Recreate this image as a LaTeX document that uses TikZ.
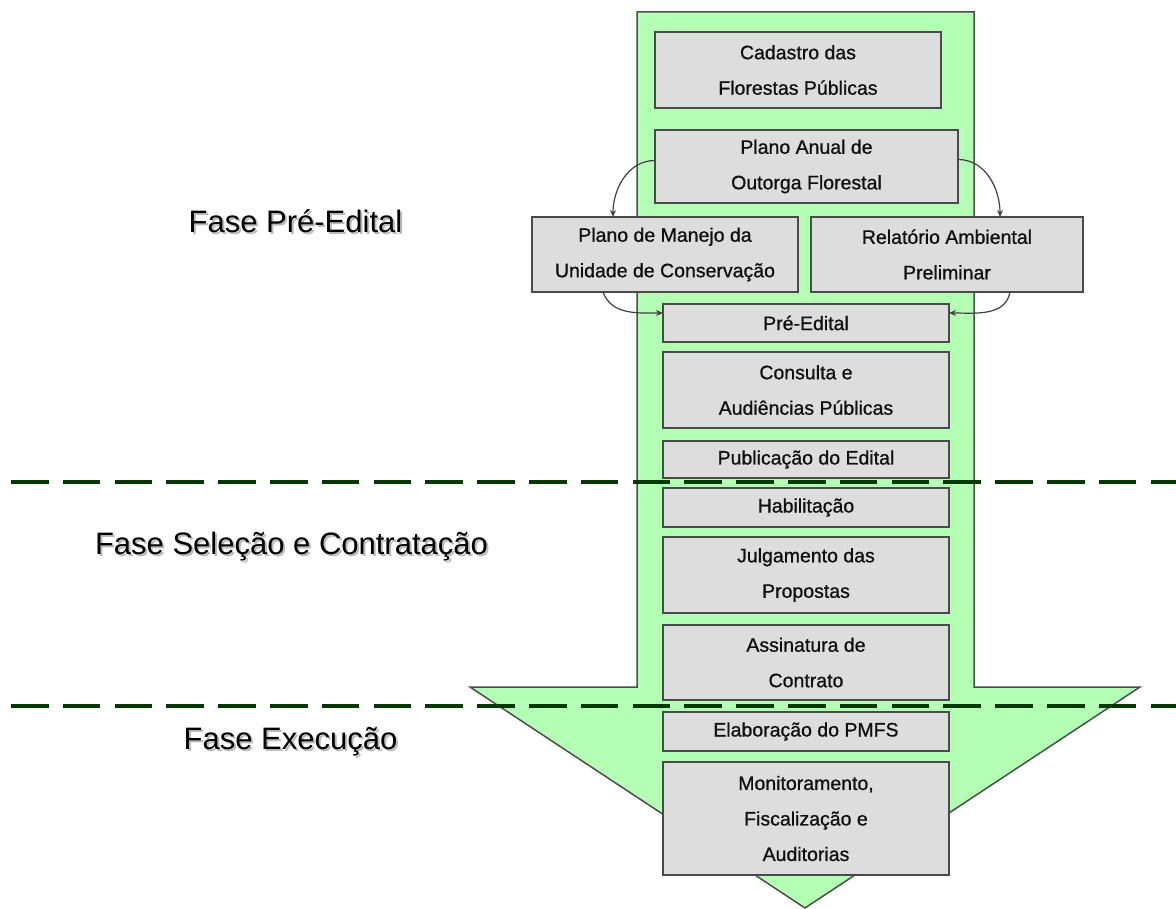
\documentclass[tikz,border=0pt]{standalone}
\usepackage{fontspec}
\setmainfont{Liberation Sans}
\newfontfamily\boxfont[FakeBold=0.9]{Liberation Sans}
\usetikzlibrary{arrows.meta}
\definecolor{arrowgreen}{HTML}{B3FFB3}
\definecolor{arrowline}{HTML}{4D4D4D}
\definecolor{boxfill}{HTML}{DDDDDD}
\definecolor{boxline}{HTML}{4A4A4A}
\definecolor{connline}{HTML}{404040}
\definecolor{dashgreen}{HTML}{063806}
\definecolor{shadowgray}{HTML}{BBBBBB}
\definecolor{textdark}{HTML}{101010}
\tikzset{
  stagebox/.style={draw=boxline, fill=boxfill, line width=1.3pt, inner sep=0pt, outer sep=0pt,
    align=center, anchor=north west, text=textdark,
    font=\boxfont\fontsize{19.5}{35.5}\selectfont},
  conn/.style={draw=connline, line width=1.2pt, -{Stealth[length=7pt,width=6pt]}},
  phasesep/.style={draw=dashgreen, line width=4.5pt, dash pattern=on 37.5pt off 14.3pt},
  phaselabel/.style={anchor=base, font=\fontsize{31}{36}\selectfont, inner sep=0pt, text=black},
  phaseshadow/.style={anchor=base, font=\fontsize{31}{36}\selectfont, inner sep=0pt, text=shadowgray},
}
\begin{document}
\begin{tikzpicture}[x=1pt,y=-1pt]
\useasboundingbox (0,0) rectangle (1176,909);
% big arrow
\draw[fill=arrowgreen, draw=arrowline, line width=1.5pt, line join=miter]
  (637,12) -- (974,12) -- (974,687) -- (1140,687) -- (805,908) -- (470,687) -- (637,687) -- cycle;
% boxes
\node[stagebox, minimum width=286pt, minimum height=76pt] (cad) at (655,32) {Cadastro das\\Florestas Públicas};
\node[stagebox, minimum width=303pt, minimum height=73pt] (pao) at (655,130) {Plano Anual de\\Outorga Florestal};
\node[stagebox, minimum width=266pt, minimum height=75pt] (pm) at (532,217) {Plano de Manejo da\\Unidade de Conservação};
\node[stagebox, minimum width=272pt, minimum height=75pt] (rap) at (811,217) {Relatório Ambiental\\Preliminar};
\node[stagebox, minimum width=286pt, minimum height=38pt] (pre) at (663,304) {Pré-Edital};
\node[stagebox, minimum width=286pt, minimum height=76pt] (con) at (663,352) {Consulta e\\Audiências Públicas};
\node[stagebox, minimum width=286pt, minimum height=37pt] (pub) at (663,441) {Publicação do Edital};
\node[stagebox, minimum width=286pt, minimum height=39pt] (hab) at (663,488) {Habilitação};
\node[stagebox, minimum width=286pt, minimum height=76pt] (jul) at (663,537) {Julgamento das\\Propostas};
\node[stagebox, minimum width=286pt, minimum height=75pt] (ass) at (663,625) {Assinatura de\\Contrato};
\node[stagebox, minimum width=286pt, minimum height=39pt] (ela) at (663,712) {Elaboração do PMFS};
\node[stagebox, minimum width=286pt, minimum height=113pt] (mon) at (663,762) {Monitoramento,\\Fiscalização e\\Auditorias};
% connectors
\draw[conn] ([yshift=6pt]pao.west) to[out=180,in=90] ([xshift=-52pt]pm.north);
\draw[conn] ([yshift=7pt]pao.east) to[out=0,in=90] ([xshift=53pt]rap.north);
\draw[conn] ([xshift=-62pt]pm.south) to[out=-70,in=180] ([yshift=10pt]pre.west);
\draw[conn] ([xshift=63pt]rap.south) to[out=-100,in=0] ([yshift=10pt]pre.east);
% phase separators
\coordinate (s1a) at (11,482); \coordinate (s1b) at (1176,482);
\coordinate (s2a) at (11,706); \coordinate (s2b) at (1176,706);
\draw[phasesep] (s1a) -- (s1b);
\draw[phasesep] (s2a) -- (s2b);
% phase labels with shadow
\node[phaseshadow] (l1s) at (297.5,235) {Fase Pré-Edital};
\node[phaselabel] (l1) at (295.5,233) {Fase Pré-Edital};
\node[phaseshadow] (l2s) at (293.5,556) {Fase Seleção e Contratação};
\node[phaselabel] (l2) at (291.5,554) {Fase Seleção e Contratação};
\node[phaseshadow] (l3s) at (292.5,751) {Fase Execução};
\node[phaselabel] (l3) at (290.5,749) {Fase Execução};
\end{tikzpicture}
\end{document}
